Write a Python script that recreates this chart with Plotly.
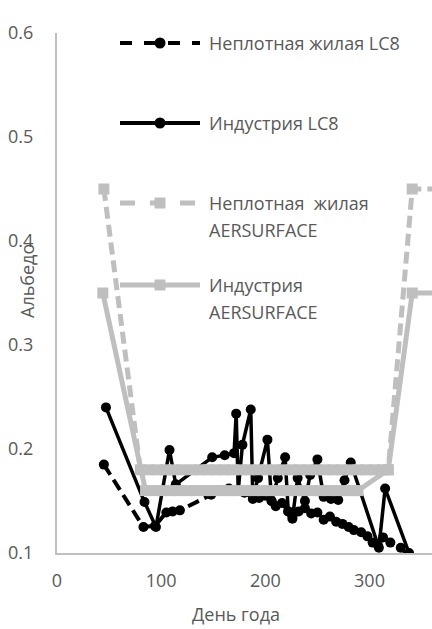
import plotly.graph_objects as go

# --- Landsat 8 (LC8) albedo estimates ---
lc8_days_industry = [47, 84, 95, 108, 114, 149, 161, 170, 172, 174, 178, 186, 188, 193,
                     202, 206, 212, 219, 222, 226, 231, 238, 243, 250, 256, 263, 270,
                     276, 282, 309, 315, 338, 352]
lc8_alb_industry = [0.240, 0.149, 0.125, 0.199, 0.166, 0.192, 0.194, 0.196, 0.234, 0.160,
                    0.204, 0.238, 0.152, 0.172, 0.209, 0.150, 0.172, 0.192, 0.140, 0.133,
                    0.172, 0.150, 0.175, 0.190, 0.154, 0.152, 0.151, 0.170, 0.187, 0.105,
                    0.162, 0.100, 0.090]

lc8_days_resid = [45, 83, 94, 105, 111, 118, 148, 157, 165, 172, 180, 188, 194, 200,
                  206, 210, 216, 222, 226, 232, 238, 244, 250, 256, 262, 268, 274, 280,
                  285, 292, 298, 303, 308, 313, 320, 330, 340]
lc8_alb_resid = [0.185, 0.125, 0.126, 0.139, 0.140, 0.141, 0.156, 0.160, 0.162, 0.160,
                 0.158, 0.155, 0.153, 0.155, 0.150, 0.145, 0.148, 0.140, 0.135, 0.140,
                 0.143, 0.138, 0.139, 0.132, 0.135, 0.130, 0.128, 0.125, 0.122, 0.120,
                 0.116, 0.110, 0.108, 0.115, 0.110, 0.105, 0.095]

# --- AERSURFACE seasonal albedo ---
aer_days_resid = [45, 80, 88, 96, 104, 112, 120, 129, 137, 145, 153, 161, 169, 177, 185,
                  193, 201, 209, 217, 225, 233, 241, 249, 257, 265, 273, 281, 289, 297,
                  305, 313, 318, 341, 372]
aer_alb_resid = [0.45, 0.18, 0.18, 0.18, 0.18, 0.18, 0.18, 0.18, 0.18, 0.18, 0.18, 0.18,
                 0.18, 0.18, 0.18, 0.18, 0.18, 0.18, 0.18, 0.18, 0.18, 0.18, 0.18, 0.18,
                 0.18, 0.18, 0.18, 0.18, 0.18, 0.18, 0.18, 0.18, 0.45, 0.45]

aer_days_industry = [44, 85, 93, 101, 109, 117, 125, 133, 141, 149, 157, 165, 173, 181,
                     189, 197, 205, 213, 221, 229, 237, 245, 253, 261, 269, 277, 285, 289,
                     318, 341, 372]
aer_alb_industry = [0.35, 0.16, 0.16, 0.16, 0.16, 0.16, 0.16, 0.16, 0.16, 0.16, 0.16, 0.16,
                    0.16, 0.16, 0.16, 0.16, 0.16, 0.16, 0.16, 0.16, 0.16, 0.16, 0.16, 0.16,
                    0.16, 0.16, 0.16, 0.16, 0.18, 0.35, 0.35]

x_ticks = [0, 100, 200, 300]
y_ticks = [0.1, 0.2, 0.3, 0.4, 0.5, 0.6]

FONT = "Open Sans"
TEXT = "#595959"
GREY = "#bfbfbf"

W, H = 432, 629
L, R, T, B = 57, 0, 33, 76


def px(x):
    return (x - L) / (W - L - R)


def py(y):
    return (H - B - y) / (H - T - B)


fig = go.Figure()

fig.add_trace(go.Scatter(
    x=lc8_days_resid, y=lc8_alb_resid, mode="lines+markers",
    line=dict(color="black", width=4, dash="12px,6px"),
    marker=dict(symbol="circle", size=10, color="black"),
    name="Неплотная жилая LC8", showlegend=False))

fig.add_trace(go.Scatter(
    x=lc8_days_industry, y=lc8_alb_industry, mode="lines+markers",
    line=dict(color="black", width=3.5),
    marker=dict(symbol="circle", size=10, color="black"),
    name="Индустрия LC8", showlegend=False))

fig.add_trace(go.Scatter(
    x=aer_days_resid, y=aer_alb_resid, mode="lines+markers",
    line=dict(color=GREY, width=5, dash="12px,6px"),
    marker=dict(symbol="square", size=11, color=GREY),
    name="Неплотная жилая AERSURFACE", showlegend=False))

fig.add_trace(go.Scatter(
    x=aer_days_industry, y=aer_alb_industry, mode="lines+markers",
    line=dict(color=GREY, width=5),
    marker=dict(symbol="square", size=11, color=GREY),
    name="Индустрия AERSURFACE", showlegend=False))

# Legend drawn inside the plot area
legend_rows = [
    (43, "black", 4, "dash", "circle", ["Неплотная жилая LC8"]),
    (123, "black", 4, "solid", "circle", ["Индустрия LC8"]),
    (203, GREY, 5, "dash", "square", ["Неплотная  жилая", "AERSURFACE"]),
    (285, GREY, 5, "solid", "square", ["Индустрия", "AERSURFACE"]),
]
shapes = []
annotations = []
for ypx, col, w, dash, sym, lines in legend_rows:
    shapes.append(dict(type="line", xref="paper", yref="paper",
                       x0=px(120), x1=px(200), y0=py(ypx), y1=py(ypx),
                       line=dict(color=col, width=w, dash=dash)))
    r = 5.5
    kind = "circle" if sym == "circle" else "rect"
    shapes.append(dict(type=kind, xref="paper", yref="paper",
                       x0=px(160 - r), x1=px(160 + r), y0=py(ypx + r), y1=py(ypx - r),
                       fillcolor=col, line=dict(width=0)))
    for i, txt in enumerate(lines):
        annotations.append(dict(text=txt, xref="paper", yref="paper",
                                x=px(207), y=py(ypx + i * 27), xanchor="left",
                                yanchor="middle", showarrow=False,
                                font=dict(family=FONT, size=18, color=TEXT)))

# Axis titles
annotations.append(dict(text="Альбедо", xref="paper", yref="paper",
                        x=px(27), y=py(281), textangle=-90, xanchor="center",
                        yanchor="middle", showarrow=False,
                        font=dict(family=FONT, size=18, color=TEXT)))
annotations.append(dict(text="День года", xref="paper", yref="paper",
                        x=px(236), y=py(614), xanchor="center", yanchor="middle",
                        showarrow=False,
                        font=dict(family=FONT, size=18, color=TEXT)))

fig.update_layout(
    width=W, height=H,
    margin=dict(l=L, r=R, t=T, b=B),
    paper_bgcolor="white", plot_bgcolor="white",
    font=dict(family=FONT, size=18, color=TEXT),
    shapes=shapes, annotations=annotations,
    xaxis=dict(range=[0, 360], tickvals=x_ticks, showgrid=False, zeroline=False,
               showline=True, linecolor=GREY, linewidth=2,
               ticks="outside", ticklen=10, tickcolor="rgba(0,0,0,0)"),
    yaxis=dict(range=[0.1, 0.6], tickvals=y_ticks, tickformat=".1f", showgrid=False,
               zeroline=False, showline=True, linecolor=GREY, linewidth=2,
               ticks="outside", ticklen=18, tickcolor="rgba(0,0,0,0)"),
)

fig.write_html("out.html")
